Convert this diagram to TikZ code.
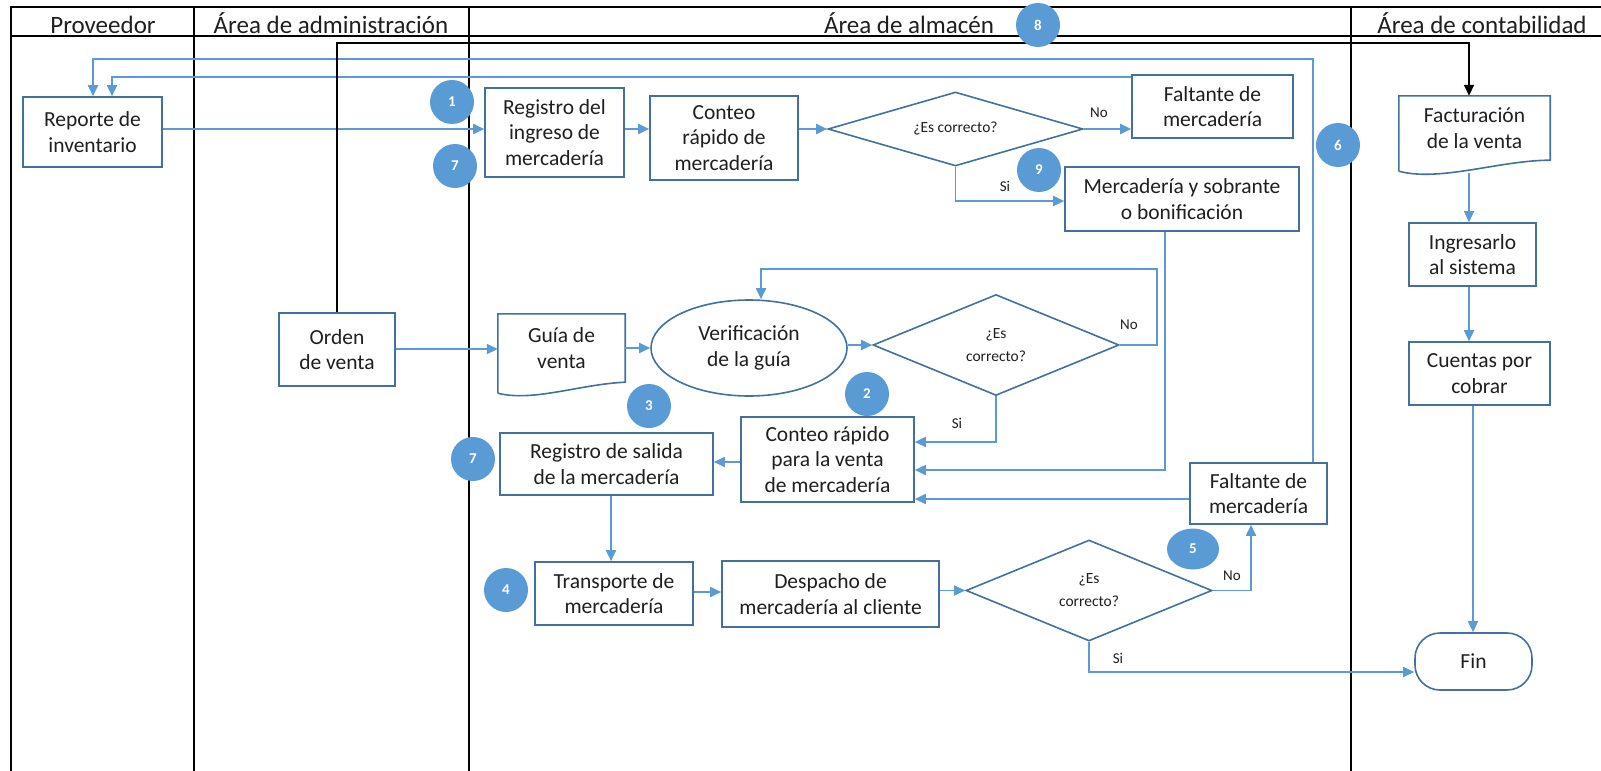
\documentclass[tikz,border=0pt]{standalone}
\usepackage{fontspec}
\setmainfont{Carlito}
\usetikzlibrary{shapes.geometric,arrows.meta,calc}

\definecolor{flowblue}{HTML}{5B9BD5}
\definecolor{edgeblue}{HTML}{41719C}
\definecolor{inktext}{HTML}{1F1F1F}

\begin{document}
\begin{tikzpicture}[x=1pt,y=-1pt,
  lane/.style={draw=black, line width=2.2pt},
  lanehead/.style={anchor=base, text=inktext, font=\fontsize{25}{28}\selectfont},
  stepbox/.style={rectangle, draw=edgeblue, line width=1.6pt, fill=white, align=center,
    inner sep=0pt, text=inktext, font=\fontsize{21.5}{25.5}\selectfont},
  docnode/.style={rectangle, align=center, inner sep=0pt, text=inktext,
    font=\fontsize{21.5}{25.5}\selectfont},
  docline/.style={draw=edgeblue, line width=1.6pt},
  decision/.style={diamond, draw=edgeblue, line width=1.6pt, fill=white, align=center,
    inner sep=0pt, text=inktext, font=\fontsize{15.5}{23}\selectfont},
  flow/.style={draw=flowblue, line width=1.8pt, -{Triangle[length=11pt,width=10pt]}},
  ctrl/.style={draw=black, line width=1.8pt, -{Triangle[length=11pt,width=10pt]}},
  tag/.style={text=inktext, font=\fontsize{15}{15}\selectfont, inner sep=0pt},
  badge/.style={circle, fill=flowblue, minimum size=44pt, inner sep=0pt, text=white,
    font=\fontsize{15}{15}\bfseries\selectfont}
]
\useasboundingbox (0,0) rectangle (1601,771);

% swimlane frame
\draw[lane] (11,771) -- (11,7) -- (1601,7);
\draw[lane] (11,36) -- (1601,36);
\draw[lane] (194,7) -- (194,771);
\draw[lane] (469,7) -- (469,771);
\draw[lane] (1351,7) -- (1351,771);

\node[lanehead] (hProv) at (103,33) {Proveedor};
\node[lanehead] (hAdm) at (331,33) {Área de administración};
\node[lanehead] (hAlm) at (909,33) {Área de almacén};
\node[lanehead] (hCon) at (1482,33) {Área de contabilidad};

% helper levels for connectors
\coordinate (yA) at (0,129);
\coordinate (yOut) at (0,59);
\coordinate (yIn) at (0,77);
\coordinate (ySi1) at (0,201);
\coordinate (yTop) at (0,43);
\coordinate (yNo2) at (0,269);
\coordinate (yMerc) at (0,470);
\coordinate (yB) at (0,349);
\coordinate (ySi2) at (0,442);
\coordinate (yF2) at (0,499);
\coordinate (yO) at (0,462);
\coordinate (yQ) at (0,592);
\coordinate (yT) at (0,672);
\coordinate (xOut) at (1313,0);
\coordinate (xOutL) at (93,0);
\coordinate (xInL) at (112,0);
\coordinate (xMerc) at (1165,0);
\coordinate (xNo2) at (1157,0);
\coordinate (xP) at (611,0);
\coordinate (xS) at (1251,0);
\coordinate (xU) at (1469,0);
\coordinate (xW) at (1473,0);

% process steps
\node[stepbox, minimum width=139, minimum height=70] (rep) at (92.5,132) {Reporte de\\inventario};
\node[stepbox, minimum width=139, minimum height=89] (reg) at (554.5,132.5) {Registro del\\ingreso de\\mercadería};
\node[stepbox, minimum width=148, minimum height=84] (cnt) at (724,138) {Conteo\\rápido de\\mercadería};
\node[decision, aspect=3.4, minimum width=255, minimum height=74] (d1) at (955.5,129) {¿Es correcto?};
\node[stepbox, minimum width=161, minimum height=63] (f1) at (1212.5,106.5) {Faltante de\\mercadería};
\node[stepbox, minimum width=234, minimum height=64] (merc) at (1182,199) {Mercadería y sobrante\\o bonificación};

\node[docnode, minimum width=151, minimum height=64] (fact) at (1474.5,128) {Facturación\\de la venta};
\draw[docline] ($(fact.south west)+(0,11)$) -- (fact.north west) -- (fact.north east) -- (fact.south east)
  .. controls ($(fact.south east)+(-50,0)$) and ($(fact.south west)+(41,22)$) .. ($(fact.south west)+(0,11)$);
\node[stepbox, minimum width=127, minimum height=63] (ing) at (1472.5,254.5) {Ingresarlo\\al sistema};
\node[stepbox, minimum width=141, minimum height=63] (cue) at (1479.5,373.5) {Cuentas por\\cobrar};
\node[stepbox, rounded corners=25pt, minimum width=117, minimum height=57] (fin) at (1473.5,661.5) {Fin};

\node[stepbox, minimum width=116, minimum height=73] (ord) at (337,349.5) {Orden\\de venta};
\node[docnode, minimum width=127, minimum height=68] (guia) at (561.5,348) {Guía de\\venta};
\draw[docline] ($(guia.south west)+(0,11)$) -- (guia.north west) -- (guia.north east) -- (guia.south east)
  .. controls ($(guia.south east)+(-45,2)$) and ($(guia.south west)+(35,20)$) .. ($(guia.south west)+(0,11)$);
\node[stepbox, ellipse, minimum width=196, minimum height=96] (ver) at (749,348) {Verificación\\de la guía};
\node[decision, minimum width=246, minimum height=101] (d2) at (996,345) {¿Es\\correcto?};
\node[stepbox, minimum width=173, minimum height=85] (cv) at (827.5,459.5) {Conteo rápido\\para la venta\\de mercadería};
\node[stepbox, minimum width=213, minimum height=62] (rs) at (606.5,464) {Registro de salida\\de la mercadería};
\node[stepbox, minimum width=137, minimum height=61] (f2) at (1258.5,493.5) {Faltante de\\mercadería};
\node[stepbox, minimum width=158, minimum height=63] (tr) at (614,593.5) {Transporte de\\mercadería};
\node[stepbox, minimum width=217, minimum height=66] (desp) at (830.5,594) {Despacho de\\mercadería al cliente};
\node[decision, minimum width=246, minimum height=101] (d3) at (1089,590.5) {¿Es\\correcto?};

% reception flow
\draw[flow] (rep.east |- yA) -- (reg.west |- yA);
\draw[flow] (reg.east |- yA) -- (cnt.west |- yA);
\draw[flow] (cnt.east |- yA) -- (d1.west);
\draw[flow] (d1.east) -- (f1.west |- d1.east);
\draw[flow] (d1.south) |- (merc.west |- ySi1);
\draw[flow] (f1.west |- yIn) -| (xInL |- rep.north);
\draw[flow] (xOut |- f2.north) -- (xOut |- yOut) -| (xOutL |- rep.north);
\draw[flow] (xMerc |- merc.south) |- (cv.east |- yMerc);

% sales flow
\draw[flow] (ord.east |- yB) -- (guia.west |- yB);
\draw[flow] (guia.east |- ver.west) -- (ver.west);
\draw[flow] (ver.east |- d2.west) -- (d2.west);
\draw[flow] (d2.east) -- (xNo2 |- d2.east) -- (xNo2 |- yNo2) -| ([xshift=12pt]ver.north);
\draw[flow] (d2.south) |- (cv.east |- ySi2);
\draw[flow] (f2.west |- yF2) -- (cv.east |- yF2);
\draw[flow] (cv.west |- yO) -- (rs.east |- yO);
\draw[flow] (xP |- rs.south) -- (xP |- tr.north);
\draw[flow] (tr.east |- yQ) -- (desp.west |- yQ);
\draw[flow] (desp.east |- d3.west) -- (d3.west);
\draw[flow] (d3.east) -| (xS |- f2.south);
\draw[flow] (d3.south) |- (fin.west |- yT);

% accounting flow
\draw[flow] ($(xU |- fact.south)+(0,13)$) -- (xU |- ing.north);
\draw[flow] (xU |- ing.south) -- (xU |- cue.north);
\draw[flow] (xW |- cue.south) -- (xW |- fin.north);
\draw[ctrl] (ord.north) |- (xU |- yTop) -- (xU |- fact.north);

% branch labels
\node[tag] (lNo1) at (1099,113) {No};
\node[tag] (lSi1) at (1005,186) {Si};
\node[tag] (lNo2) at (1129,325) {No};
\node[tag] (lSi2) at (957,423) {Si};
\node[tag] (lNo3) at (1232,576) {No};
\node[tag] (lSi3) at (1118,658) {Si};

% step markers
\node[badge] (m1) at (452,102) {1};
\node[badge] (m7a) at (455,166) {7};
\node[badge] (m8) at (1038,25) {8};
\node[badge] (m9) at (1039,170) {9};
\node[badge] (m6) at (1338,145) {6};
\node[badge] (m3) at (649,406) {3};
\node[badge] (m2) at (867,394) {2};
\node[badge] (m7b) at (473,459) {7};
\node[badge] (m4) at (506,590) {4};
\node[badge, ellipse, minimum width=52pt, minimum height=41pt] (m5) at (1193,549) {5};
\end{tikzpicture}
\end{document}
